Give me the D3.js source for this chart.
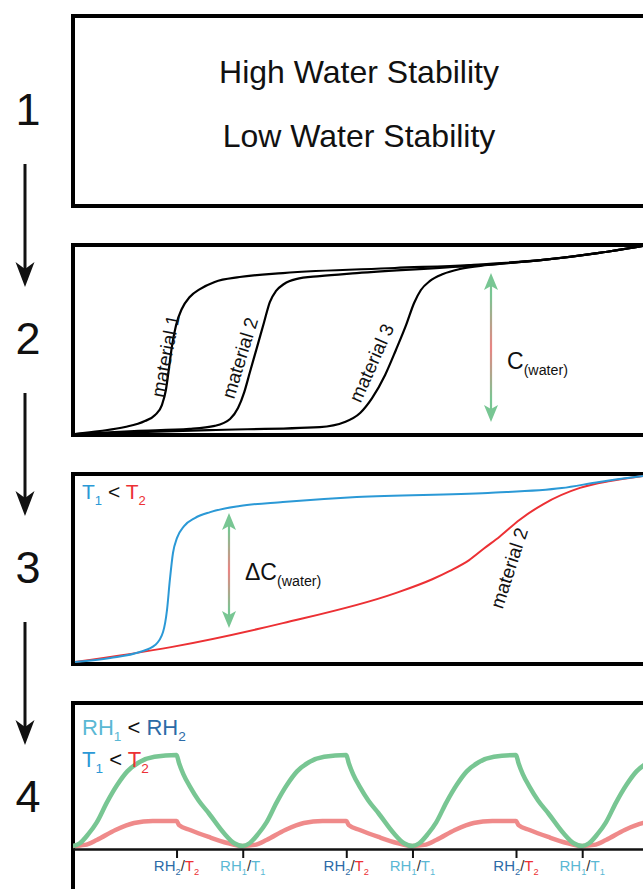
<!DOCTYPE html>
<html lang="en">
<head>
<meta charset="UTF-8">
<title>Water stability schematic</title>
<style>
  body { margin: 0; background: #fff; }
  svg { display: block; font-family: 'Liberation Sans', Arial, Helvetica, sans-serif; }
  text { white-space: pre; }
</style>
</head>
<body>
<svg id="chart" width="643" height="889"></svg>
<script src="https://d3js.org/d3.v7.min.js"></script>
<script>
// ---- data ----
const stepLabels = ["1", "2", "3", "4"];
const stabilityLabels = ["High Water Stability", "Low Water Stability"];

// panel 2: water uptake (0..1) against relative humidity (%)
const rhMat1 = [0, 4.4, 8.8, 12.3, 14.1, 15.3, 16.0, 16.5, 17.1, 17.8, 18.8, 20.2, 22.0, 24.6, 29.0, 36.6, 56.3, 69.4, 82.4, 92.3, 100];
const upMat1 = [0, 0.016, 0.037, 0.069, 0.101, 0.154, 0.234, 0.340, 0.473, 0.580, 0.665, 0.729, 0.771, 0.809, 0.835, 0.856, 0.883, 0.899, 0.926, 0.963, 1];
const rhMat2 = [0, 10.4, 20.2, 24.6, 27.3, 28.7, 29.8, 30.8, 32.0, 33.3, 34.3, 35.4, 36.8, 38.9, 43.1, 49.6, 69.4, 82.4, 92.3, 100];
const upMat2 = [0, 0.016, 0.027, 0.043, 0.080, 0.138, 0.223, 0.330, 0.457, 0.596, 0.702, 0.761, 0.798, 0.824, 0.840, 0.856, 0.894, 0.926, 0.963, 1];
const rhMat3 = [0, 23.6, 43.1, 47.5, 50.2, 52.3, 54.6, 56.5, 58.3, 59.7, 60.9, 62.5, 64.8, 67.8, 72.7, 82.4, 92.3, 100];
const upMat3 = [0, 0.021, 0.037, 0.064, 0.112, 0.191, 0.314, 0.447, 0.580, 0.697, 0.766, 0.814, 0.851, 0.878, 0.899, 0.926, 0.963, 1];
const materialNames = ["material 1", "material 2", "material 3"];

// panel 3: material 2 at two temperatures
const rhT1 = [0, 6.2, 11.4, 14.1, 15.5, 16.2, 16.7, 17.25, 17.96, 19.2, 21.1, 23.8, 29.0, 36.6, 49.6, 72.7, 85.7, 92.3, 100];
const upT1 = [0, 0.022, 0.054, 0.091, 0.161, 0.280, 0.441, 0.586, 0.667, 0.731, 0.774, 0.806, 0.839, 0.860, 0.887, 0.909, 0.935, 0.968, 1];
const rhT2 = [0, 16.9, 36.6, 56.3, 62.9, 66.0, 69.4, 72.0, 74.8, 78.3, 82.4, 88.9, 94.2, 100];
const upT2 = [0, 0.080, 0.209, 0.369, 0.445, 0.490, 0.548, 0.610, 0.675, 0.765, 0.848, 0.936, 0.973, 1];

// panel 4: cycling between RH1/T1 and RH2/T2 (time in arbitrary units)
const cycleTime = [
  0, 0.4, 0.9, 1.4, 2.0, 2.6, 3.2, 3.9, 4.8, 6.1, 6.25, 6.5, 6.9, 7.4, 8.0, 8.9, 9.5,
  10, 10.4, 10.9, 11.4, 12.0, 12.6, 13.2, 13.9, 14.8, 16.1, 16.25, 16.5, 16.9, 17.4, 18.0, 18.9, 19.5,
  20, 20.4, 20.9, 21.4, 22.0, 22.6, 23.2, 23.9, 24.8, 26.1, 26.25, 26.5, 26.9, 27.4, 28.0, 28.9, 29.5,
  30, 30.4, 30.9, 31.4, 32.0, 32.6, 33.2, 33.9
];
const uptakeLowT = [
  0, 0.03, 0.13, 0.26, 0.48, 0.67, 0.82, 0.92, 0.98, 1, 0.91, 0.79, 0.65, 0.50, 0.36, 0.14, 0.03,
  0, 0.03, 0.13, 0.26, 0.48, 0.67, 0.82, 0.92, 0.98, 1, 0.91, 0.79, 0.65, 0.50, 0.36, 0.14, 0.03,
  0, 0.03, 0.13, 0.26, 0.48, 0.67, 0.82, 0.92, 0.98, 1, 0.91, 0.79, 0.65, 0.50, 0.36, 0.14, 0.03,
  0, 0.03, 0.13, 0.26, 0.48, 0.67, 0.82, 0.92
];
const cycleTimeHighT = [
  0, 0.7, 1.4, 2.5, 3.6, 4.7, 6.1, 6.25, 6.9, 8.0, 9.1,
  10, 10.7, 11.4, 12.5, 13.6, 14.7, 16.1, 16.25, 16.9, 18.0, 19.1,
  20, 20.7, 21.4, 22.5, 23.6, 24.7, 26.1, 26.25, 26.9, 28.0, 29.1,
  30, 30.7, 31.4, 32.5, 33.6, 34.7
];
const uptakeHighT = [
  0, 0.012, 0.066, 0.176, 0.253, 0.275, 0.275, 0.23, 0.176, 0.099, 0.033,
  0, 0.012, 0.066, 0.176, 0.253, 0.275, 0.275, 0.23, 0.176, 0.099, 0.033,
  0, 0.012, 0.066, 0.176, 0.253, 0.275, 0.275, 0.23, 0.176, 0.099, 0.033,
  0, 0.012, 0.066, 0.176, 0.253, 0.275
];
const tickTimes = [6.1, 10, 16.1, 20, 26.1, 30];
const tickState = ["2", "1", "2", "1", "2", "1"];

// ---- colours ----
const blueT = "#2b99d6", redT = "#ec3034";
const rhLight = "#5ab8d4", rhDark = "#2c6ba7";
const green = "#78c693", pink = "#ef8a8a";

const svg = d3.select('#chart');
svg.append('rect').attr('width', 643).attr('height', 889).attr('fill', '#fff');

const defs = svg.append('defs');
const panelTops = [16, 245, 474, 703];
const panelH = 190;

// rich text with subscripts
function rich(g, x, y, parts, size, anchor) {
  const t = g.append('text')
    .attr('x', x).attr('y', y)
    .attr('font-size', size)
    .attr('text-anchor', anchor || 'start');
  let shifted = 0;
  parts.forEach(p => {
    const target = p.sub ? size * 0.28 : 0;
    t.append('tspan')
      .attr('dy', target - shifted)
      .attr('font-size', p.sub ? size * 0.62 : size)
      .attr('fill', p.c || '#111')
      .text(p.t);
    shifted = target;
  });
  return t;
}

// double headed arrow with green -> red -> green shaft
function doubleArrow(g, x, yTop, yBot, id) {
  const grad = defs.append('linearGradient').attr('id', id)
    .attr('gradientUnits', 'userSpaceOnUse')
    .attr('x1', x).attr('x2', x).attr('y1', yTop).attr('y2', yBot);
  grad.append('stop').attr('offset', '0%').attr('stop-color', green);
  grad.append('stop').attr('offset', '15%').attr('stop-color', green);
  grad.append('stop').attr('offset', '50%').attr('stop-color', '#e98483');
  grad.append('stop').attr('offset', '85%').attr('stop-color', green);
  grad.append('stop').attr('offset', '100%').attr('stop-color', green);
  const hw = 7, hh = 17;
  g.append('line').attr('x1', x).attr('x2', x).attr('y1', yTop + 6).attr('y2', yBot - 6)
    .attr('stroke', `url(#${id})`).attr('stroke-width', 2.2);
  g.append('path').attr('d', `M${x},${yTop} L${x + hw},${yTop + hh} L${x},${yTop + hh - 4} L${x - hw},${yTop + hh} Z`)
    .attr('fill', green);
  g.append('path').attr('d', `M${x},${yBot} L${x + hw},${yBot - hh} L${x},${yBot - hh + 4} L${x - hw},${yBot - hh} Z`)
    .attr('fill', green);
}

// clip paths for panel interiors
panelTops.forEach((top, i) => {
  defs.append('clipPath').attr('id', 'clip' + i)
    .append('rect').attr('x', 73).attr('y', top).attr('width', 572).attr('height', panelH);
});

// ---- step numbers and arrows ----
stepLabels.forEach((s, i) => {
  const top = panelTops[i];
  svg.append('text').attr('x', 28).attr('y', top + 109)
    .attr('text-anchor', 'middle').attr('font-size', 45).attr('fill', '#111').text(s);
  if (i < stepLabels.length - 1) {
    const y0 = top + 148, y1 = top + 271;
    svg.append('line').attr('x1', 25).attr('x2', 25).attr('y1', y0).attr('y2', y1 - 14)
      .attr('stroke', '#111').attr('stroke-width', 3);
    svg.append('path').attr('d', `M25,${y1} L15.5,${y1 - 25} L25,${y1 - 18} L34.5,${y1 - 25} Z`)
      .attr('fill', '#111');
  }
});

// ---- panel boxes ----
panelTops.forEach((top, i) => {
  svg.append('rect').attr('x', 73).attr('y', top).attr('width', 600)
    .attr('height', i === 3 ? 220 : panelH)
    .attr('fill', 'none').attr('stroke', '#000').attr('stroke-width', 4);
});

// ---- panel 1 ----
stabilityLabels.forEach((s, i) => {
  svg.append('text').attr('x', 359).attr('y', 83 + i * 64)
    .attr('text-anchor', 'middle').attr('font-size', 32).attr('fill', '#111').text(s);
});

// ---- panel 2 ----
const x2 = d3.scaleLinear().domain([0, 100]).range([75, 643]);
const y2 = d3.scaleLinear().domain([0, 1]).range([434, 246]);
const line2 = d3.line().x(d => x2(d[0])).y(d => y2(d[1])).curve(d3.curveMonotoneX);
const p2 = svg.append('g').attr('clip-path', 'url(#clip1)');
[[rhMat1, upMat1], [rhMat2, upMat2], [rhMat3, upMat3]].forEach(([xs, ys]) => {
  p2.append('path').datum(d3.zip(xs, ys)).attr('d', line2)
    .attr('fill', 'none').attr('stroke', '#000').attr('stroke-width', 2.2);
});
// labels along the steep part of each isotherm (data coords)
const matLabelPos = [[15.9, 0.415, -79], [29.0, 0.405, -73], [52.2, 0.378, -66]];
materialNames.forEach((n, i) => {
  const [lx, ly, rot] = matLabelPos[i];
  svg.append('text')
    .attr('transform', `translate(${x2(lx)},${y2(ly)}) rotate(${rot})`)
    .attr('text-anchor', 'middle').attr('dy', '0.35em')
    .attr('font-size', 19).attr('fill', '#111').text(n);
});
doubleArrow(svg, 491, 273, 422, 'gradC');
rich(svg, 507, 369, [{ t: 'C' }, { t: '(water)', sub: true }], 23);

// ---- panel 3 ----
const x3 = d3.scaleLinear().domain([0, 100]).range([75, 643]);
const y3 = d3.scaleLinear().domain([0, 1]).range([662, 476]);
const line3 = d3.line().x(d => x3(d[0])).y(d => y3(d[1])).curve(d3.curveMonotoneX);
const p3 = svg.append('g').attr('clip-path', 'url(#clip2)');
p3.append('path').datum(d3.zip(rhT2, upT2)).attr('d', line3)
  .attr('fill', 'none').attr('stroke', redT).attr('stroke-width', 2);
p3.append('path').datum(d3.zip(rhT1, upT1)).attr('d', line3)
  .attr('fill', 'none').attr('stroke', blueT).attr('stroke-width', 2);
svg.append('text')
  .attr('transform', `translate(${x3(76.4)},${y3(0.505)}) rotate(-72)`)
  .attr('text-anchor', 'middle').attr('dy', '0.35em')
  .attr('font-size', 19).attr('fill', '#111').text(materialNames[1]);
doubleArrow(svg, 229, 513, 628, 'gradDC');
rich(svg, 245, 580, [{ t: 'ΔC' }, { t: '(water)', sub: true }], 23);
rich(svg, 82, 499, [
  { t: 'T', c: blueT }, { t: '1', sub: true, c: blueT },
  { t: ' < ' }, { t: 'T', c: redT }, { t: '2', sub: true, c: redT }
], 21);

// ---- panel 4 ----
const x4 = d3.scaleLinear().domain([0, 33.7]).range([73, 645]);
const y4 = d3.scaleLinear().domain([0, 1]).range([846, 755]);
const line4 = d3.line().x(d => x4(d[0])).y(d => y4(d[1])).curve(d3.curveMonotoneX);
const p4 = svg.append('g').attr('clip-path', 'url(#clip3)');
p4.append('path').datum(d3.zip(cycleTimeHighT, uptakeHighT)).attr('d', line4)
  .attr('fill', 'none').attr('stroke', pink).attr('stroke-width', 4.5).attr('stroke-linejoin', 'round');
p4.append('path').datum(d3.zip(cycleTime, uptakeLowT)).attr('d', line4)
  .attr('fill', 'none').attr('stroke', green).attr('stroke-width', 4.5).attr('stroke-linejoin', 'round');

const axisG = svg.append('g').attr('transform', 'translate(0,849)')
  .call(d3.axisBottom(x4).tickValues(tickTimes).tickSize(9).tickSizeOuter(0).tickFormat(''));
axisG.select('.domain').attr('stroke', '#111').attr('stroke-width', 2.5);
axisG.selectAll('.tick line').attr('stroke', '#111').attr('stroke-width', 2);

tickTimes.forEach((t, i) => {
  const hi = tickState[i] === '2';
  const rhC = hi ? rhDark : rhLight;
  const tC = hi ? redT : rhLight;
  rich(svg, x4(t), 871, [
    { t: 'RH', c: rhC }, { t: tickState[i], sub: true, c: rhC },
    { t: '/', c: '#333' },
    { t: 'T', c: tC }, { t: tickState[i], sub: true, c: tC }
  ], 15, 'middle');
});

rich(svg, 82, 735, [
  { t: 'RH', c: rhLight }, { t: '1', sub: true, c: rhLight },
  { t: ' < ' }, { t: 'RH', c: rhDark }, { t: '2', sub: true, c: rhDark }
], 22);
rich(svg, 82, 767, [
  { t: 'T', c: blueT }, { t: '1', sub: true, c: blueT },
  { t: ' < ' }, { t: 'T', c: redT }, { t: '2', sub: true, c: redT }
], 22);
</script>
</body>
</html>
